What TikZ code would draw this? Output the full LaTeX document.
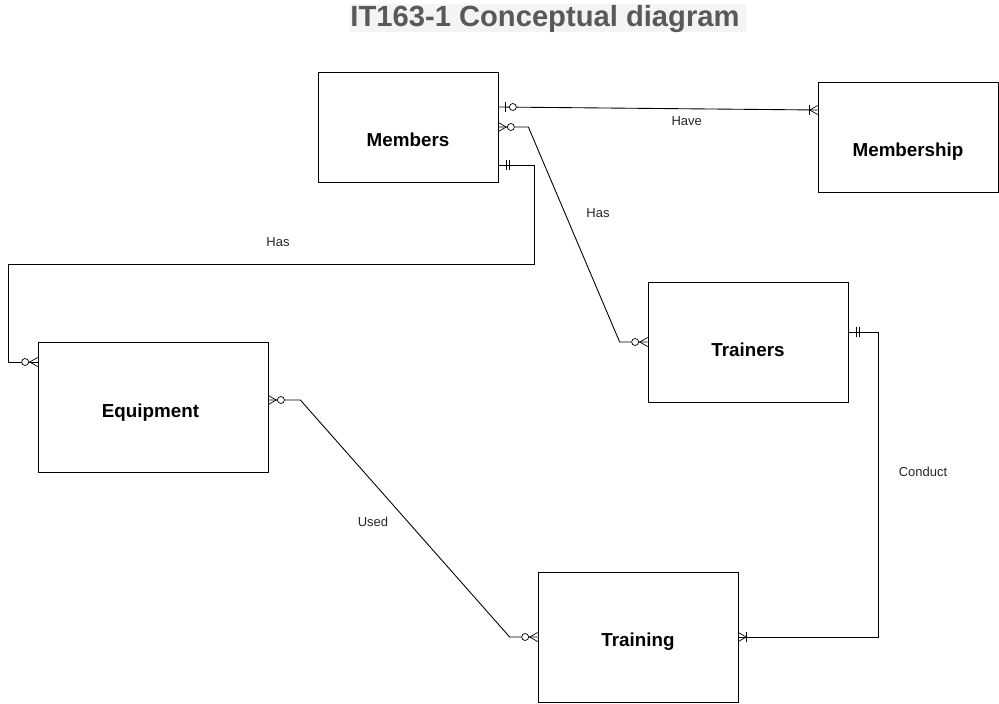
\documentclass[tikz,border=0pt]{standalone}
\usepackage{fontspec}
\setmainfont{Liberation Sans}
\usetikzlibrary{positioning, calc}

\definecolor{titlegrey}{HTML}{595959}
\definecolor{titlebg}{HTML}{F4F4F4}

\tikzset{
    zmany/.pic={\draw (0,0.09) -- (0.16,0) -- (0,-0.09); \draw[fill=white] (0.25,0) circle (0.07);},
    zone/.pic={\draw (0.14,0.1) -- (0.14,-0.1); \draw[fill=white] (0.29,0) circle (0.07);},
    omany/.pic={\draw (0,0.09) -- (0.16,0) -- (0,-0.09); \draw (0.16,0.1) -- (0.16,-0.1);},
    oonly/.pic={\draw (0.16,0.1) -- (0.16,-0.1); \draw (0.22,0.1) -- (0.22,-0.1);}
}

\begin{document}
\begin{tikzpicture}[
        entity/.style={rectangle, draw=black, fill=white, text depth=2pt, font=\fontsize{10.7}{12}\selectfont\bfseries},
        rel/.style={draw=black, line width=0.5pt},
        label/.style={font=\fontsize{7.4}{8}\selectfont, text=black!85}
    ]
        \useasboundingbox (0,0) rectangle (19.98,-14.06);

        % title
        \fill[titlebg] (7.0,-0.08) rectangle (14.92,-0.64);
        \node[font=\fontsize{16.6}{18}\selectfont\bfseries, text=titlegrey] (title) at (10.90,-0.39) {IT163-1 Conceptual diagram};

        % entities
        \node[entity, minimum width=3.6cm, minimum height=2.2cm, text height=24.5pt] (members) at (8.16,-2.54) {Members};
        \node[entity, minimum width=3.6cm, minimum height=2.2cm, text height=24.5pt] (membership) at (18.16,-2.74) {Membership};
        \node[entity, minimum width=4cm, minimum height=2.4cm, text height=18.8pt] (trainers) at (14.96,-6.84) {Trainers};
        \node[entity, minimum width=4.6cm, minimum height=2.6cm, text height=14.3pt] (equipment) at (3.06,-8.14) {\hspace*{-0.1cm}Equipment};
        \node[entity, minimum width=4cm, minimum height=2.6cm, text height=13pt] (training) at (12.76,-12.74) {Training};

        % connector ends
        \coordinate (mA) at ($(members.east)+(0,0.4)$);
        \coordinate (mB) at (members.east);
        \coordinate (mC) at ($(members.east)+(0,-0.76)$);
        \coordinate (sA) at ($(membership.west)+(0,0.54)$);
        \coordinate (tA) at (trainers.west);
        \coordinate (tB) at ($(trainers.east)+(0,0.2)$);
        \coordinate (eA) at ($(equipment.west)+(0,0.9)$);
        \coordinate (eB) at ($(equipment.east)+(0,0.14)$);
        \coordinate (gA) at (training.east);
        \coordinate (gB) at (training.west);
        \coordinate (bendA) at (10.68,-5.28);
        \coordinate (bendB) at (0.16,-5.28);

        % relations
        \draw[rel] (mA) -- (sA) node[pos=0.59, below=1pt, label] {Have};
        \draw[rel] (mB) -- ++(0.6,0) -- ($(tA)+(-0.56,0)$) -- (tA);
        \node[label] (hasB) at (11.96,-4.26) {Has};
        \draw[rel] (mC) -| (bendA) -- (bendB) |- (eA);
        \node[label] (hasC) at (5.56,-4.84) {Has};
        \draw[rel] (tB) -- ++(0.6,0) |- (gA);
        \node[label] (conduct) at (18.46,-9.44) {Conduct};
        \draw[rel] (eB) -- ++(0.64,0) -- ($(gB)+(-0.56,0)$) -- (gB);
        \node[label] (used) at (7.46,-10.44) {Used};

        % cardinality marks
        \pic at (mA) {zone};
        \pic[rotate=180] at (sA) {omany};
        \pic at (mB) {zmany};
        \pic[rotate=180] at (tA) {zmany};
        \pic at (mC) {oonly};
        \pic[rotate=180] at (eA) {zmany};
        \pic at (tB) {oonly};
        \pic at (gA) {omany};
        \pic at (eB) {zmany};
        \pic[rotate=180] at (gB) {zmany};
    \end{tikzpicture}
\end{document}
